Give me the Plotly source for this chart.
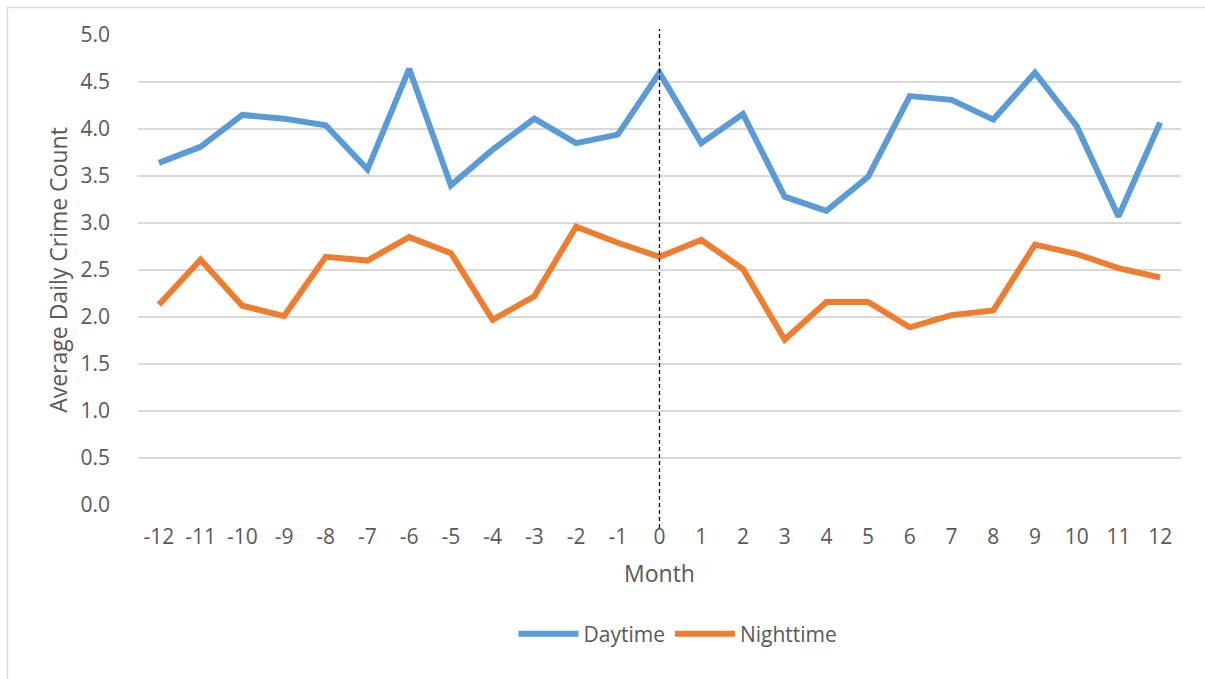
import plotly.graph_objects as go

# Average daily crime counts, 12 months before and after month 0
months = list(range(-12, 13))
daytime = [3.64, 3.81, 4.15, 4.11, 4.04, 3.57, 4.64, 3.40, 3.78, 4.11, 3.85, 3.94, 4.60,
           3.85, 4.16, 3.28, 3.13, 3.49, 4.35, 4.31, 4.10, 4.60, 4.03, 3.07, 4.07]
nighttime = [2.13, 2.61, 2.12, 2.01, 2.64, 2.60, 2.85, 2.68, 1.97, 2.22, 2.96, 2.79, 2.64,
             2.82, 2.51, 1.76, 2.16, 2.16, 1.89, 2.02, 2.07, 2.77, 2.67, 2.52, 2.42]
y_ticks = [0.0, 0.5, 1.0, 1.5, 2.0, 2.5, 3.0, 3.5, 4.0, 4.5, 5.0]

W, H = 1205, 679
ML, MR, MT, MB = 138, 24, 35, 174
PW, PH = W - ML - MR, H - MT - MB

FONT = "Open Sans"
TXT = "#595959"
GRID = "#D9D9D9"

fig = go.Figure()
fig.add_trace(go.Scatter(x=months, y=daytime, mode="lines", name="Daytime",
                         line=dict(color="#5B9BD5", width=6)))
fig.add_trace(go.Scatter(x=months, y=nighttime, mode="lines", name="Nighttime",
                         line=dict(color="#ED7D31", width=6)))


def px_x(p):
    return (p - ML) / PW


def px_y(p):
    return (H - MB - p) / PH


# outer chart frame
fig.add_shape(type="rect", xref="paper", yref="paper",
              x0=px_x(7.5), x1=px_x(W + 20), y0=px_y(H + 20), y1=px_y(7.5),
              line=dict(color=GRID, width=1.3), fillcolor="rgba(0,0,0,0)", layer="below")

# month-0 marker
fig.add_shape(type="line", xref="x", yref="paper", x0=0, x1=0,
              y0=px_y(528), y1=px_y(29),
              line=dict(color="#000000", width=1.3, dash="4px,3px"))

fig.update_layout(
    width=W, height=H,
    margin=dict(l=ML, r=MR, t=MT, b=MB),
    paper_bgcolor="white", plot_bgcolor="white",
    font=dict(family=FONT, color=TXT, size=21),
    showlegend=True,
    legend=dict(orientation="h", x=px_x(678), xanchor="center", y=px_y(634), yanchor="middle",
                font=dict(size=21, color=TXT), itemwidth=60, traceorder="normal"),
    xaxis=dict(range=[-12.5, 12.5], tickmode="array", tickvals=months,
               ticktext=[str(m) for m in months], showgrid=False, zeroline=False,
               showline=False, ticks="", ticklabelstandoff=17,
               tickfont=dict(size=21, color=TXT),
               title=dict(text="Month", font=dict(size=23, color=TXT), standoff=16)),
    yaxis=dict(range=[0, 5], tickmode="array", tickvals=y_ticks,
               ticktext=[f"{v:.1f}" for v in y_ticks], showgrid=True, gridcolor=GRID,
               gridwidth=1.5, zeroline=False, showline=False, ticks="",
               ticklabelstandoff=27, tickfont=dict(size=21, color=TXT),
               title=dict(text="Average Daily Crime Count", font=dict(size=23, color=TXT),
                          standoff=6)),
)

fig.write_html("out.html")
